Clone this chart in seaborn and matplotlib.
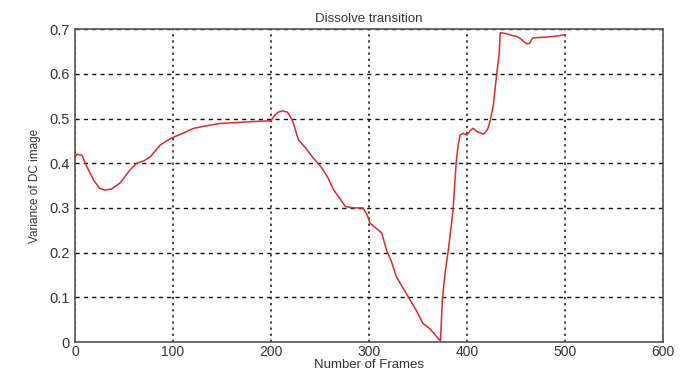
import matplotlib
matplotlib.use("Agg")
import matplotlib.pyplot as plt
import seaborn as sns
import pandas as pd

frames = [0, 2, 7, 12, 19, 25, 30, 37, 46, 56, 63, 70, 77, 87, 98, 110, 121, 135, 148, 165, 189, 200,
          203, 207, 212, 217, 222, 228, 235, 243, 251, 258, 264, 270, 276, 285, 294, 298, 301, 307, 313, 318,
          323, 328, 335, 342, 348, 355, 362, 368, 373, 375, 378, 381, 384, 386, 389, 391, 393, 396, 400,
          403, 406, 411, 417, 421, 424, 427, 429, 431, 433, 434, 440, 444, 450, 454, 458, 461, 464, 467,
          472, 481, 490, 499, 500]
values = [0.415, 0.42, 0.418, 0.392, 0.362, 0.344, 0.340, 0.342, 0.356, 0.385, 0.400, 0.405, 0.415, 0.441,
          0.456, 0.467, 0.478, 0.484, 0.489, 0.491, 0.494, 0.495,
          0.505, 0.514, 0.517, 0.514, 0.495, 0.452, 0.435, 0.412, 0.392, 0.368, 0.340, 0.322, 0.303, 0.300,
          0.300, 0.285, 0.266, 0.255, 0.244, 0.205, 0.180, 0.146, 0.120, 0.094, 0.072, 0.042, 0.030, 0.015,
          0.002, 0.098, 0.160, 0.205, 0.260, 0.300, 0.400, 0.440, 0.463, 0.467, 0.463,
          0.472, 0.478, 0.470, 0.465, 0.475, 0.497, 0.530, 0.571, 0.610, 0.646, 0.692, 0.690, 0.687, 0.684,
          0.680, 0.672, 0.667, 0.668, 0.680, 0.681, 0.682, 0.684, 0.687, 0.687]

x_ticks = [0, 100, 200, 300, 400, 500, 600]
y_ticks = [0, 0.1, 0.2, 0.3, 0.4, 0.5, 0.6, 0.7]
y_tick_labels = ["0", "0.1", "0.2", "0.3", "0.4", "0.5", "0.6", "0.7"]

df = pd.DataFrame({"frame": frames, "value": values})

sns.set_style("white")
plt.rcParams['font.family'] = ['Liberation Sans', 'DejaVu Sans']

fig = plt.figure(figsize=(6.89, 3.73), dpi=100)
ax = fig.add_axes([0.109, 0.083, 0.853, 0.839])
sns.lineplot(data=df, x="frame", y="value", ax=ax, color="#e8262a", linewidth=1.1)

ax.set_xlim(0, 600)
ax.set_ylim(0, 0.7)
ax.set_xticks(x_ticks)
ax.set_yticks(y_ticks)
ax.set_yticklabels(y_tick_labels)
ax.grid(True, axis="y", color="#111111", linestyle=(0, (3, 3)), linewidth=1.0)
ax.grid(True, axis="x", color="#111111", linestyle=(0, (1.5, 2.5)), linewidth=1.1)
for s in ax.spines.values():
    s.set_color("#555555")
    s.set_linewidth(1.2)
ax.tick_params(axis="y", labelsize=10.5, colors="#333333", length=0, pad=4)
ax.tick_params(axis="x", labelsize=10, colors="#333333", length=0, pad=2)
ax.set_xlabel("Number of Frames", fontsize=9.5, color="#333333", labelpad=0)
ax.set_ylabel("Variance of DC image", fontsize=8.5, color="#333333", labelpad=6)
ax.set_title("Dissolve transition", fontsize=9.5, color="#333333", pad=5)

fig.savefig("out.png", dpi=100)
